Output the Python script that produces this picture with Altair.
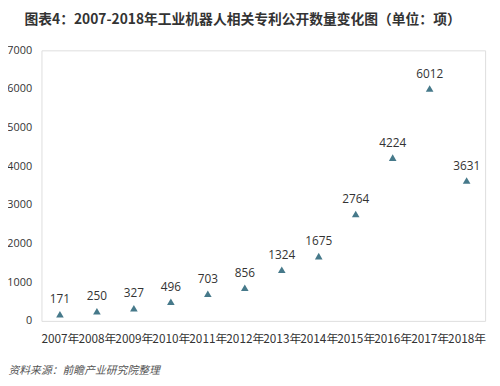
import altair as alt
import pandas as pd

years = ["2007年", "2008年", "2009年", "2010年", "2011年", "2012年",
         "2013年", "2014年", "2015年", "2016年", "2017年", "2018年"]
patents = [171, 250, 327, 496, 703, 856, 1324, 1675, 2764, 4224, 6012, 3631]

title_text = "图表4：2007-2018年工业机器人相关专利公开数量变化图（单位：项）"
source_text = "资料来源：前瞻产业研究院整理"

df = pd.DataFrame({"year": years, "value": patents})

cjk = "Noto Sans CJK SC"

x = alt.X("year:N", sort=years,
          scale=alt.Scale(paddingInner=0, paddingOuter=0),
          axis=alt.Axis(domain=False, ticks=False, grid=False, labelAngle=0,
                        labelFont=cjk, labelFontSize=12, labelColor="#333333",
                        labelPadding=13, labelOverlap=False,
                        title=source_text, titleFont=cjk, titleFontSize=11,
                        titleFontStyle="italic", titleFontWeight="normal",
                        titleColor="#555555", titleAnchor="start", titleAlign="left",
                        titleX=-34, titleY=50, titleBaseline="middle"))
y = alt.Y("value:Q", scale=alt.Scale(domain=[0, 7000], nice=False),
          axis=alt.Axis(values=[0, 1000, 2000, 3000, 4000, 5000, 6000, 7000],
                        domain=False, ticks=False, grid=False, title=None,
                        labelFont="Open Sans", labelFontSize=11,
                        labelColor="#333333", labelPadding=10, format="d"))

base = alt.Chart(df).encode(x=x, y=y)

points = base.mark_point(shape="triangle-up", filled=True, size=60,
                         color="#46798a", opacity=1)
labels = base.mark_text(dy=-15, baseline="middle", font="Open Sans",
                        fontSize=12, color="#333333").encode(text="value:Q")

chart = (points + labels).properties(
    width=451, height=275,
    title=alt.TitleParams(title_text, font=cjk, fontSize=14, fontWeight="bold",
                          color="#333333", anchor="middle", dx=-21, offset=18),
    padding={"left": 34, "top": 40, "right": 7, "bottom": 55},
    autosize=alt.AutoSizeParams(type="none"),
).configure_view(stroke=None).configure(background="white")

chart.save("out.html", embed_options={"renderer": "svg", "actions": False})
